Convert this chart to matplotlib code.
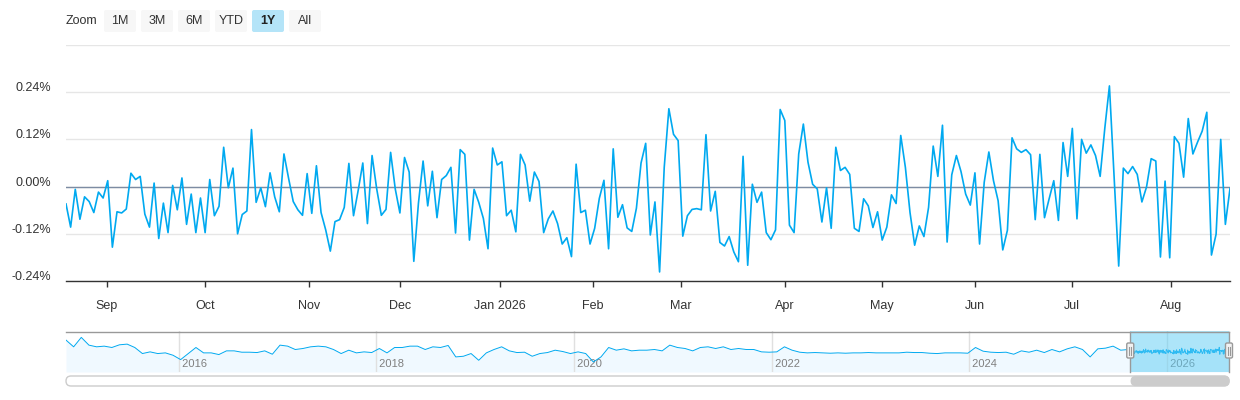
import numpy as np
import pandas as pd
import matplotlib
matplotlib.use('Agg')
import matplotlib.pyplot as plt
import matplotlib.dates as mdates
from matplotlib.patches import FancyBboxPatch
from matplotlib.transforms import ScaledTranslation

plt.rcParams['font.family'] = ['Liberation Sans', 'DejaVu Sans']

# daily change (%) for the 1Y window, one value per trading day
daily_change = [
    -0.044, -0.103, -0.007, -0.083, -0.026, -0.038, -0.066, -0.014, -0.029, 0.015,
    -0.154, -0.064, -0.067, -0.057, 0.034, 0.018, 0.026, -0.070, -0.103, 0.009,
    -0.132, -0.042, -0.117, 0.003, -0.059, 0.022, -0.096, -0.019, -0.117, -0.029,
    -0.117, 0.018, -0.074, -0.050, 0.100, -0.003, 0.047, -0.120, -0.071, -0.062,
    0.145, -0.040,
    -0.003, -0.051, 0.035, -0.026, -0.064, 0.083, 0.021, -0.038, -0.059, -0.073,
    0.033, -0.068, 0.053, -0.066, -0.110, -0.164, -0.089, -0.084, -0.053, 0.059,
    -0.074, -0.010, 0.060, -0.094, 0.079, -0.006, -0.073, -0.058, 0.087, -0.006,
    -0.067, 0.074, 0.037, -0.190, -0.042, 0.065, -0.049, 0.039, -0.079, 0.018,
    0.028, 0.049,
    -0.118, 0.094, 0.082, -0.136, -0.007, -0.040, -0.081, -0.158, 0.098, 0.055,
    0.063, -0.074, -0.060, -0.115, 0.082, 0.055, -0.037, 0.037, 0.013, -0.117,
    -0.082, -0.062, -0.094, -0.146, -0.130, -0.178, 0.057, -0.066, -0.060, -0.146,
    -0.106, -0.030, 0.016, -0.158, 0.096, -0.078, -0.046, -0.105, -0.114, -0.055,
    0.060, 0.110,
    -0.123, -0.039, -0.217, 0.049, 0.198, 0.133, 0.117, -0.126, -0.074, -0.058,
    -0.056, -0.059, 0.132, -0.062, -0.012, -0.142, -0.151, -0.127, -0.166, -0.191,
    0.077, -0.200, 0.006, -0.040, -0.014, -0.117, -0.135, -0.110, 0.196, 0.168,
    -0.098, -0.117, 0.083, 0.159, 0.062, 0.006, -0.006, -0.090, -0.003, -0.106,
    0.100, 0.041,
    0.049, 0.031, -0.106, -0.114, -0.031, -0.049, -0.104, -0.064, -0.136, -0.103,
    -0.021, -0.043, 0.130, 0.049, -0.066, -0.149, -0.100, -0.127, -0.053, 0.103,
    0.026, 0.156, -0.141, 0.030, 0.079, 0.038, -0.019, -0.047, 0.035, -0.146,
    0.011, 0.088, 0.015, -0.036, -0.161, -0.111, 0.124, 0.096, 0.087, 0.094,
    0.081, -0.084,
    0.082, -0.079, -0.031, 0.015, -0.086, 0.112, 0.026, 0.148, -0.082, 0.120,
    0.085, 0.106, 0.079, 0.026, 0.148, 0.256, 0.029, -0.202, 0.047, 0.033,
    0.051, 0.031, -0.039, -0.001, 0.071, 0.065, -0.179, 0.014, -0.181, 0.127,
    0.110, 0.024, 0.173, 0.083, 0.113, 0.141, 0.189, -0.174, -0.121, 0.120,
    -0.096, -0.005,
]

market_holidays = ['2025-09-01', '2025-11-27', '2025-12-25', '2026-01-01', '2026-01-19',
                   '2026-02-16', '2026-04-03', '2026-05-25', '2026-06-19', '2026-07-03']
trade_days = pd.bdate_range('2025-08-19', '2026-08-19')
trade_days = trade_days[~trade_days.isin(pd.to_datetime(market_holidays))]

# coarse readings of the full history shown in the navigator (%)
nav_history = [
    0.726, 0.286, 0.902, 0.396, 0.286, 0.330, 0.242, 0.418, 0.462, 0.242,
    -0.154, -0.044, -0.154, -0.110, -0.264, -0.550, -0.154, 0.242, -0.110, -0.110,
    -0.220, 0.022, 0.022, -0.066, -0.066, -0.088, 0.022, -0.198, 0.396, 0.330,
    0.110, 0.176, 0.286, 0.330, 0.286, 0.110, -0.154, 0.066, -0.110, -0.044,
    -0.088, 0.176, -0.110, 0.242, 0.242, 0.330, 0.330, 0.110, 0.286, 0.242,
    0.374, -0.374, -0.330, -0.154, -0.594, -0.110, 0.110, 0.286, 0.022, -0.088,
    -0.066, -0.330, -0.154, -0.088, 0.066, -0.022, -0.154, -0.044, -0.154, -0.704,
    -0.374, 0.242, 0.066, 0.154, 0.022, 0.066,
    0.066, 0.110, 0.022, 0.396, 0.242, 0.176, 0.022, 0.242, 0.286, 0.176,
    0.286, 0.110, 0.176, 0.110, 0.110, -0.044, -0.066, -0.044, 0.286, 0.066,
    -0.066, -0.110, -0.088, -0.110, -0.132, -0.110, -0.132, -0.110, -0.110, -0.088,
    -0.110, -0.110, -0.110, -0.110, -0.066, -0.088, -0.088, -0.132, -0.154, -0.110,
    -0.110, -0.110, -0.132, 0.242, 0.000, -0.066, -0.088, -0.066, -0.198, 0.022,
    -0.066, 0.066, -0.088, 0.110, -0.044, 0.154, 0.286, 0.110, -0.374, 0.154,
    0.198, 0.330, 0.066, 0.110,
]
nav_dates = pd.date_range('2014-11-11', '2025-08-12', periods=len(nav_history))

month_labels = ['Sep', 'Oct', 'Nov', 'Dec', 'Jan 2026', 'Feb', 'Mar', 'Apr',
                'May', 'Jun', 'Jul', 'Aug']
month_starts = pd.date_range('2025-09-01', '2026-08-01', freq='MS')
y_ticks = [-0.24, -0.12, 0.0, 0.12, 0.24, 0.36]
nav_years = pd.date_range('2016-01-01', '2026-01-01', freq='2YS')
zoom_buttons = ['1M', '3M', '6M', 'YTD', '1Y', 'All']
selected_button = '1Y'

line_color = '#00a9f0'
text_color = '#333333'
W, H = 1240, 400

fig = plt.figure(figsize=(W / 100, H / 100), dpi=100)
fig.patch.set_facecolor('white')

# ---- main chart (ordinal x axis, one slot per trading day)
ax = fig.add_axes([66 / W, (H - 281) / H, 1164 / W, 236 / H])
idx = np.arange(len(trade_days))
ax.plot(idx, daily_change, color=line_color, lw=1.2, zorder=3)
ax.axhline(0, color='#7d8ca3', lw=1, zorder=2)
ax.set_xlim(0, len(trade_days) - 1)
ax.set_ylim(y_ticks[0], y_ticks[-1])
ax.set_yticks(y_ticks)
ax.set_yticklabels([f'{v:.2f}%' if v < y_ticks[-1] else '' for v in y_ticks])
ax.grid(axis='y', color='#e6e6e6', lw=1, zorder=1)
tick_pos = np.interp(month_starts.asi8, trade_days.asi8, idx)
ax.set_xticks(tick_pos)
ax.set_xticklabels(month_labels)
for s in ['top', 'right', 'left']:
    ax.spines[s].set_visible(False)
ax.spines['bottom'].set_color(text_color)
ax.spines['bottom'].set_linewidth(1)
ax.tick_params(axis='y', length=0, pad=11, labelsize=9, labelcolor=text_color)
ax.tick_params(axis='x', length=4.5, width=1, color=text_color, pad=9,
               labelsize=9, labelcolor=text_color)
# labels sit a little above their grid lines
lift = ScaledTranslation(0, 5.5 / 100, fig.dpi_scale_trans)
for lbl in ax.get_yticklabels():
    lbl.set_transform(lbl.get_transform() + lift)

# ---- navigator
nav = fig.add_axes([66 / W, (H - 372) / H, 1163 / W, 41 / H])
nav_x = nav_dates.append(trade_days)
nav_y = np.concatenate([nav_history, daily_change])
nav_lo, nav_hi = -1.36, 1.32
nav.fill_between(nav_x, nav_y, nav_lo, color='#f0f9ff', lw=0, zorder=1)
nav.plot(nav_x, nav_y, color=line_color, lw=0.7, zorder=3)
nav.set_xlim(nav_x[0], nav_x[-1])
nav.set_ylim(nav_lo, nav_hi)
for yr in nav_years:
    nav.axvline(yr, color='#e0e0e0', lw=1, zorder=2)
    nav.text(yr, 0.2, ' ' + str(yr.year), transform=nav.get_xaxis_transform(),
             ha='left', va='center', fontsize=8, color='#7f7f7f', zorder=2)
nav.axvspan(trade_days[0], trade_days[-1], color='#5ccdf5', alpha=0.5, lw=0, zorder=4)
for s in nav.spines.values():
    s.set_visible(False)
nav.set_xticks([])
nav.set_yticks([])

# ---- overlay in pixel coordinates for ui pieces
ui = fig.add_axes([0, 0, 1, 1])
ui.set_xlim(0, W)
ui.set_ylim(H, 0)
ui.axis('off')
ui.patch.set_alpha(0)

sel_l = nav.transData.transform((mdates.date2num(trade_days[0]), 0))[0]
sel_r = nav.transData.transform((mdates.date2num(trade_days[-1]), 0))[0]
ui.plot([66, 1229], [331.5, 331.5], color='#999999', lw=1)
ui.plot([sel_l, sel_l], [331.5, 372], color='#999999', lw=1)
ui.plot([sel_r, sel_r], [331.5, 372], color='#999999', lw=1)
for hx in (sel_l, sel_r):
    ui.add_patch(FancyBboxPatch((hx - 3.5, 343), 7, 15,
                                boxstyle='round,pad=0,rounding_size=1.5',
                                fc='#f2f2f2', ec='#999999', lw=1, zorder=5))
    ui.plot([hx - 1, hx - 1], [346.5, 354.5], color='#999999', lw=0.8, zorder=6)
    ui.plot([hx + 1, hx + 1], [346.5, 354.5], color='#999999', lw=0.8, zorder=6)

# scrollbar
ui.add_patch(FancyBboxPatch((66, 376), 1163, 10, boxstyle='round,pad=0,rounding_size=5',
                            fc='white', ec='#cccccc', lw=1))
ui.add_patch(FancyBboxPatch((sel_l + 1, 376.5), sel_r - sel_l - 1, 9,
                            boxstyle='round,pad=0,rounding_size=4.5',
                            fc='#cccccc', ec='#cccccc', lw=1))

# range selector
ui.text(66, 21, 'Zoom', ha='left', va='center', fontsize=9, color=text_color)
for i, lab in enumerate(zoom_buttons):
    bx = 104 + i * 37
    on = lab == selected_button
    ui.add_patch(FancyBboxPatch((bx, 10), 32, 22, boxstyle='round,pad=0,rounding_size=2',
                                fc='#b4e4f8' if on else '#f7f7f7', ec='none'))
    ui.text(bx + 16, 21.5, lab, ha='center', va='center', fontsize=9,
            color='#222222' if on else text_color, fontweight='bold' if on else 'normal')

fig.savefig('out.png', dpi=100)
